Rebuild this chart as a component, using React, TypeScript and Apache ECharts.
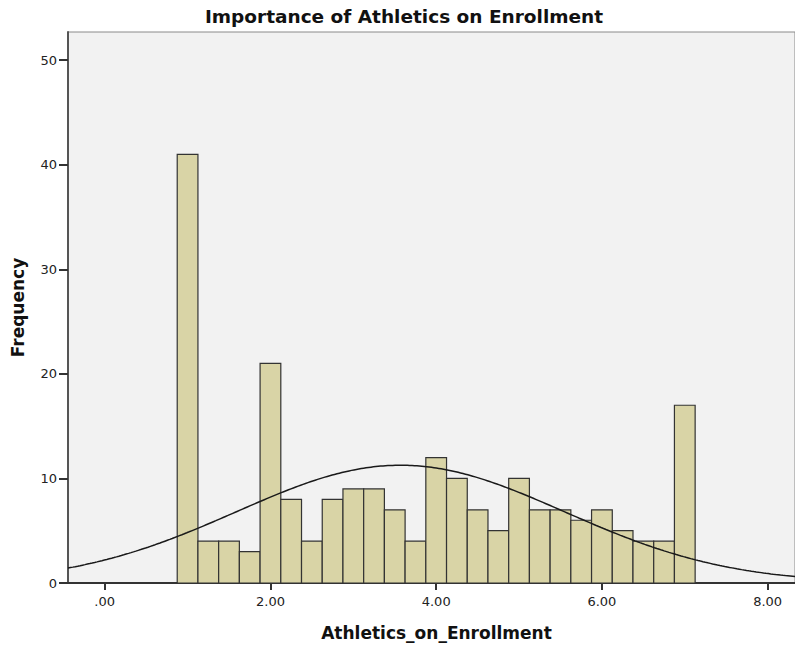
import React, { useEffect, useRef } from "react";
import * as echarts from "echarts";

const TITLE = "Importance of Athletics on Enrollment";
const X_TITLE = "Athletics_on_Enrollment";
const Y_TITLE = "Frequency";
const BIN_START = 0.875;
const BIN_WIDTH = 0.25;
const COUNTS = [41, 4, 4, 3, 21, 8, 4, 8, 9, 9, 7, 4, 12, 10, 7, 5, 10, 7, 7, 6, 7, 5, 4, 4, 17];
const X_TICKS = [0, 2, 4, 6, 8];
const Y_TICKS = [0, 10, 20, 30, 40, 50];
const X_MIN = -0.443;
const X_MAX = 8.33;
const Y_MAX = 52.7;

export default function App() {
  const ref = useRef<HTMLDivElement>(null);
  useEffect(() => {
    if (!ref.current) return;
    const chart = echarts.init(ref.current, null, { renderer: "svg" });
    const bins = COUNTS.map((c, i) => [BIN_START + i * BIN_WIDTH, BIN_START + (i + 1) * BIN_WIDTH, c]);
    // normal fit from the histogram
    const n = COUNTS.reduce((a, b) => a + b, 0);
    const centers = COUNTS.map((_, i) => BIN_START + (i + 0.5) * BIN_WIDTH);
    const mean = COUNTS.reduce((s, c, i) => s + c * centers[i], 0) / n;
    const sd = Math.sqrt(COUNTS.reduce((s, c, i) => s + c * (centers[i] - mean) ** 2, 0) / (n - 1));
    const curve: number[][] = [];
    const steps = 300;
    for (let k = 0; k <= steps; k++) {
      const x = X_MIN + ((X_MAX - X_MIN) * k) / steps;
      const y = (n * BIN_WIDTH) / (sd * Math.sqrt(2 * Math.PI)) * Math.exp(-((x - mean) ** 2) / (2 * sd * sd));
      curve.push([x, y]);
    }
    const font = "'DejaVu Sans', sans-serif";
    chart.setOption({
      animation: false,
      backgroundColor: "#ffffff",
      title: {
        text: TITLE,
        left: 399,
        textAlign: "center",
        top: 2,
        textStyle: { fontFamily: font, fontSize: 18.5, fontWeight: "bold", color: "#111" },
      },
      grid: {
        left: 68,
        right: 0,
        top: 32,
        bottom: 62,
        containLabel: false,
        outerBoundsMode: "none",
        show: true,
        backgroundColor: "#f2f2f2",
        borderColor: "#8a8a8a",
        borderWidth: 1,
      },
      xAxis: {
        type: "value",
        min: X_MIN,
        max: X_MAX,
        name: X_TITLE,
        nameLocation: "middle",
        nameGap: 41,
        nameTextStyle: { fontFamily: font, fontSize: 17, fontWeight: "bold", color: "#111", padding: [0, 0, 0, 10] },
        axisLine: { onZero: false, lineStyle: { color: "#333", width: 2 } },
        axisTick: { show: true, customValues: X_TICKS, length: 7, lineStyle: { color: "#333", width: 2 } },
        axisLabel: {
          customValues: X_TICKS,
          fontFamily: font,
          fontSize: 13,
          color: "#222",
          margin: 12,
          formatter: (v: number) => (v === 0 ? ".00" : v.toFixed(2)),
        },
        splitLine: { show: false },
      },
      yAxis: {
        type: "value",
        min: 0,
        max: Y_MAX,
        name: Y_TITLE,
        nameLocation: "middle",
        nameGap: 42,
        nameTextStyle: { fontFamily: font, fontSize: 17, fontWeight: "bold", color: "#111" },
        axisLine: { show: true, onZero: false, lineStyle: { color: "#555", width: 2 } },
        axisTick: { show: true, customValues: Y_TICKS, length: 9, lineStyle: { color: "#333", width: 2 } },
        axisLabel: { customValues: Y_TICKS, fontFamily: font, fontSize: 13, color: "#222", margin: 11 },
        splitLine: { show: false },
      },
      series: [
        {
          type: "custom",
          data: bins,
          encode: { x: [0, 1], y: 2 },
          renderItem: (params: any, api: any) => {
            const p0 = api.coord([api.value(0), api.value(2)]);
            const p1 = api.coord([api.value(1), 0]);
            return {
              type: "rect",
              shape: { x: p0[0], y: p0[1], width: p1[0] - p0[0], height: p1[1] - p0[1] },
              style: { fill: "#d9d4a6", stroke: "#333", lineWidth: 1.2 },
            };
          },
          z: 2,
        },
        {
          type: "line",
          data: curve,
          showSymbol: false,
          symbol: "none",
          lineStyle: { color: "#1a1a1a", width: 1.5 },
          z: 3,
        },
      ],
    });
    return () => chart.dispose();
  }, []);
  return <div ref={ref} style={{ width: 795, height: 645, position: "absolute", left: 0, top: 0 }} />;
}
